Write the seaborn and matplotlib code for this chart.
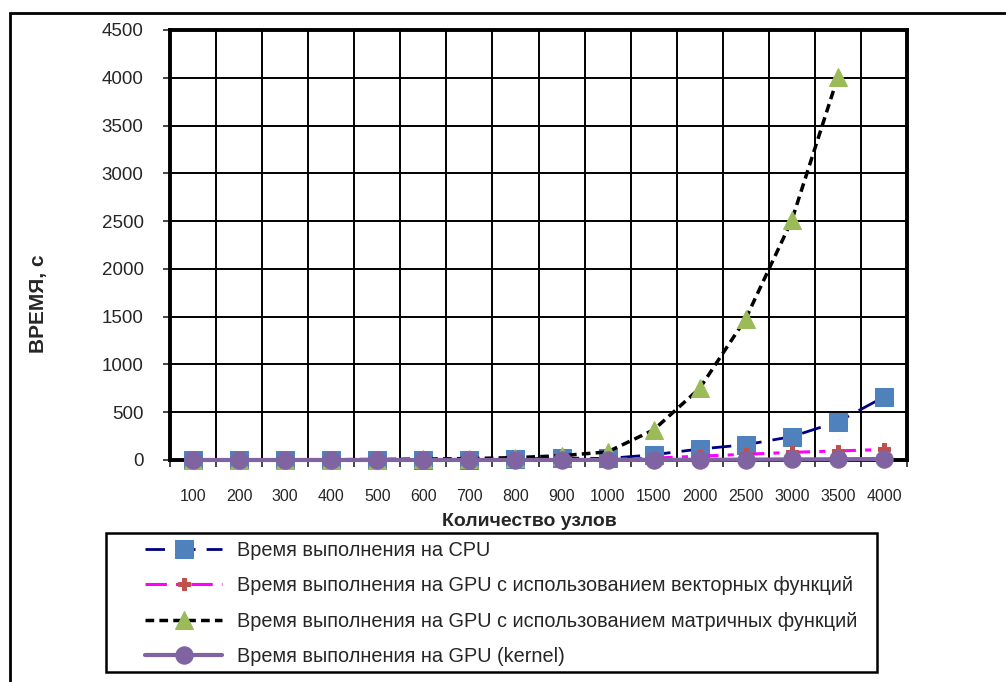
import numpy as np
import pandas as pd
import seaborn as sns
import matplotlib.pyplot as plt
from matplotlib.patches import Rectangle

# данные
nodes = ['100', '200', '300', '400', '500', '600', '700', '800', '900', '1000',
         '1500', '2000', '2500', '3000', '3500', '4000']
t_cpu = [0.1, 0.3, 0.7, 1.3, 2, 3, 5, 10, 20, 16, 55, 115, 160, 245, 400, 660]
t_gpu_vec = [0.1, 0.2, 0.3, 0.5, 0.8, 1, 1.5, 2, 3, 4, 20, 40, 60, 80, 95, 110]
t_gpu_mat = [0.5, 1, 2, 3, 5, 10, 15, 25, 45, 85, 315, 750, 1480, 2510, 4010, np.nan]
t_gpu_kernel = [0.02, 0.05, 0.1, 0.15, 0.2, 0.3, 0.4, 0.5, 0.6, 0.8, 1.5, 2.5, 4, 6, 8, 10]

labels = ['Время выполнения на CPU',
          'Время выполнения на GPU с использованием векторных функций',
          'Время выполнения на GPU с использованием матричных функций',
          'Время выполнения на GPU (kernel)']

df = pd.DataFrame({'nodes': nodes, 'cpu': t_cpu, 'vec': t_gpu_vec,
                   'mat': t_gpu_mat, 'kern': t_gpu_kernel})

sns.set_style('white')
plt.rcParams['font.family'] = ['Liberation Sans', 'DejaVu Sans']

W, H = 1006, 682
fig = plt.figure(figsize=(W / 100, H / 100), dpi=100)
ax = fig.add_axes([170 / W, 1 - 460 / H, 737 / W, 430 / H])

sns.lineplot(data=df, x='nodes', y='cpu', ax=ax, sort=False, color='#000080', lw=2,
             label=labels[0])
ax.lines[-1].set_dashes([7, 4])
ax.lines[-1].set(marker='s', markersize=12.5, markerfacecolor='#4F81BD', markeredgecolor='#4F81BD')

sns.lineplot(data=df, x='nodes', y='vec', ax=ax, sort=False, color='#FF00FF', lw=2.2,
             label=labels[1])
ax.lines[-1].set_dashes([7, 3, 2, 3])
ax.lines[-1].set(marker='P', markersize=9, markerfacecolor='#C0504D', markeredgecolor='#C0504D')

sns.lineplot(data=df, x='nodes', y='mat', ax=ax, sort=False, color='black', lw=2.5,
             label=labels[2])
ax.lines[-1].set_dashes([2.5, 1.5])
ax.lines[-1].set(marker='^', markersize=13, markerfacecolor='#9BBB59', markeredgecolor='#9BBB59')

sns.lineplot(data=df, x='nodes', y='kern', ax=ax, sort=False, color='#8064A2', lw=3,
             label=labels[3])
ax.lines[-1].set(marker='o', markersize=12.5, markerfacecolor='#8064A2', markeredgecolor='#8064A2')

for ln in ax.lines:
    ln.set_clip_on(False)

ax.set_xlim(-0.5, len(nodes) - 0.5)
ax.set_ylim(0, 4500)
ax.set_yticks(np.arange(0, 4501, 500))
ax.set_xticks(np.arange(len(nodes)))
ax.set_xticklabels(nodes)
ax.set_xticks(np.arange(-0.5, len(nodes)), minor=True)

ax.grid(False)
for y in np.arange(500, 4501, 500):
    ax.axhline(y, color='black', lw=1.4, zorder=0)
for x in np.arange(0.5, len(nodes) - 0.5):
    ax.axvline(x, color='black', lw=1.4, zorder=0)

for s in ax.spines.values():
    s.set_color('black')
    s.set_linewidth(2.8)
    s.set_zorder(1)

ax.tick_params(axis='y', direction='out', length=5, width=1.2, pad=14, labelsize=13.5, left=True)
ax.tick_params(axis='x', which='major', length=0, pad=21, labelsize=11.5)
ax.tick_params(axis='x', which='minor', direction='out', length=5, width=1.2, bottom=True)

ax.set_ylabel('ВРЕМЯ, с', fontsize=15, fontweight='bold')
ax.yaxis.set_label_coords(-0.1655, 0.363)
ax.set_xlabel('Количество узлов', fontsize=14, fontweight='bold')
ax.xaxis.set_label_coords(0.488, -0.123)

ax.get_legend().remove()
handles, lbls = ax.get_legend_handles_labels()
leg = fig.legend(handles, lbls, loc='upper left',
                 bbox_to_anchor=(145 / W, 1 - 541 / H), borderaxespad=0, borderpad=0,
                 fontsize=14.3, handlelength=3.9, labelspacing=0.82, handletextpad=0.75,
                 frameon=False, numpoints=1)

fig.add_artist(Rectangle((106 / W, 1 - 672 / H), (877 - 106) / W, (672 - 533) / H,
                         transform=fig.transFigure, fill=False, edgecolor='black', lw=1.8))
fig.add_artist(Rectangle((10 / W, -0.1), 1.2, 1.1 - 13 / H, transform=fig.transFigure,
                         fill=False, edgecolor='black', lw=2))

fig.savefig('out.png', dpi=100)
